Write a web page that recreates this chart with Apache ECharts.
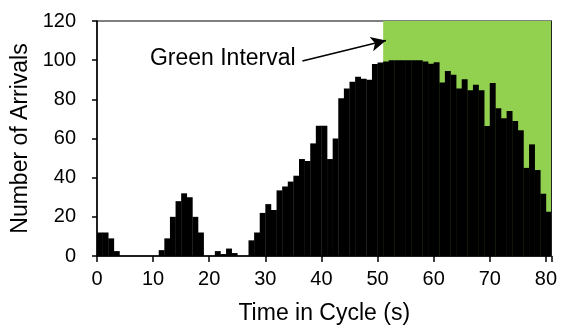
<!DOCTYPE html>
<html>
<head>
<meta charset="utf-8">
<script src="https://cdn.jsdelivr.net/npm/echarts@6/dist/echarts.min.js"></script>
<style>
html,body{margin:0;padding:0;background:#fff;}
#chart{width:562px;height:326px;}
</style>
</head>
<body>
<div id="chart"></div>
<script>
// Time in cycle (s): start of each 1-second bin
const times = [];
for (let i = 0; i <= 80; i++) times.push(i);
// Number of arrivals in each bin
const arrivals = [12,12,9,2.5,0,0,0,0,0,0,0,3,9,20,28,32,30,20,12,0,0,
  2.5,1,3.8,1.5,0,0,8,12,22,26.5,
  23.5,33.5,35.5,38,41,49.5,48.5,57.5,66.5,66.5,
  49.5,60,80.5,85.5,89,91.5,90.5,90,98,98.8,
  99.3,100,100,100,100,100,100,99.3,98.2,98.9,
  88.6,94.5,92.5,85.5,90.3,84.7,87.4,84.7,66.4,88.3,
  75.4,70.3,74.1,69,64.2,45,57,43.9,31.8,22.6];
// Green interval (s)
const greenInterval = [51, 81];
const xTicks = [0,10,20,30,40,50,60,70,80];
const yTicks = [0,20,40,60,80,100,120];
const binWidth = 1;

const FONT = '"Liberation Sans", Arial, sans-serif';
const chart = echarts.init(document.getElementById('chart'), null, {renderer:'canvas'});

const barData = times.map((t, i) => [t, arrivals[i]]);

const option = {
  animation: false,
  backgroundColor: '#fff',
  grid: {left: 97, right: 10.5, top: 21, bottom: 70, show: true, borderColor: '#000', borderWidth: 1,
    backgroundColor: 'transparent', containLabel: false, outerBoundsMode: 'none'},
  xAxis: {
    type: 'value', min: xTicks[0], max: 81, interval: 10,
    name: 'Time in Cycle (s)', nameLocation: 'middle', nameGap: 46,
    nameTextStyle: {fontFamily: FONT, fontSize: 23, color: '#000'},
    axisLine: {show: true, onZero: false, lineStyle: {color: '#000', width: 1.5}},
    axisTick: {show: true, inside: false, length: 6, lineStyle: {color: '#000', width: 1.5}},
    axisLabel: {fontFamily: FONT, fontSize: 20, color: '#000', margin: 13,
      formatter: v => xTicks.indexOf(v) >= 0 ? String(v) : ''},
    splitLine: {show: false}
  },
  yAxis: [{
    type: 'value', min: yTicks[0], max: yTicks[yTicks.length-1], interval: 20,
    name: 'Number of Arrivals', nameLocation: 'middle', nameGap: 63,
    nameTextStyle: {fontFamily: FONT, fontSize: 23, color: '#000'},
    axisLine: {show: true, lineStyle: {color: '#000', width: 1.5}},
    axisTick: {show: true, inside: false, length: 5, lineStyle: {color: '#000', width: 1.5}},
    axisLabel: {fontFamily: FONT, fontSize: 20, color: '#000', margin: 21},
    splitLine: {show: false}
  }, {
    type: 'value', min: yTicks[0], max: yTicks[yTicks.length-1], position: 'right', z: 10,
    axisLine: {show: true, lineStyle: {color: '#222', width: 1}},
    axisTick: {show: false}, axisLabel: {show: false}, splitLine: {show: false}
  }],
  series: [
    {
      type: 'custom', z: 1, silent: true,
      data: [[greenInterval[0], greenInterval[1]]],
      renderItem: function (params, api) {
        const p0 = api.coord([api.value(0), yTicks[yTicks.length-1]]);
        const p1 = api.coord([api.value(1), 0]);
        return {type: 'rect', shape: {x: p0[0], y: p0[1], width: p1[0]-p0[0], height: p1[1]-p0[1]},
          style: {fill: '#92D050'}};
      }
    },
    {
      type: 'custom', z: 3,
      data: barData,
      renderItem: function (params, api) {
        const p0 = api.coord([api.value(0), api.value(1)]);
        const p1 = api.coord([api.value(0) + binWidth, 0]);
        return {type: 'rect', shape: {x: p0[0], y: p0[1], width: p1[0]-p0[0] + 0.3, height: p1[1]-p0[1]},
          style: {fill: '#000'}};
      },
      markLine: {
        silent: true, symbol: ['none', 'arrow'], symbolSize: [11, 15],
        lineStyle: {color: '#000', width: 1.6, type: 'solid'},
        label: {show: false},
        data: [[{coord: [36.6, 99.6]}, {coord: [51.5, 110]}]]
      },
      markPoint: {
        silent: true, symbol: 'circle', symbolSize: 0,
        data: [{coord: [35.4, 101], value: 'Green Interval'}],
        label: {show: true, position: 'inside', align: 'right', verticalAlign: 'middle',
          fontFamily: FONT, fontSize: 23, color: '#000', formatter: 'Green Interval'}
      }
    }
  ]
};
chart.setOption(option);
</script>
</body>
</html>
